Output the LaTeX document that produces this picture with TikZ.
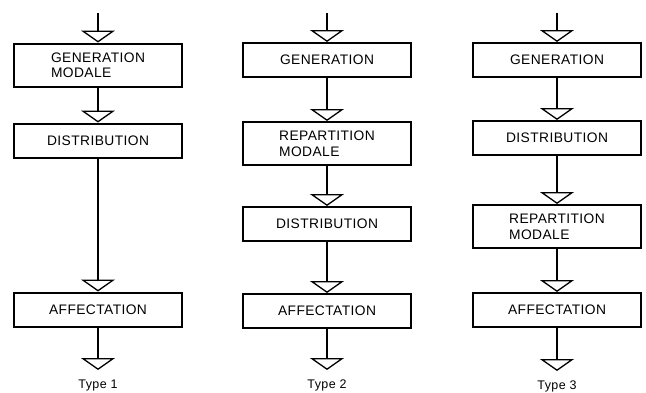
\documentclass[tikz,border=0pt]{standalone}
\usepackage{fontspec}
\setmainfont{Liberation Sans}[LetterSpace=3]
\usetikzlibrary{arrows.meta, positioning}

\begin{document}
\begin{tikzpicture}[x=1pt, y=-1pt,
            node distance=40pt,
            box/.style={rectangle, draw, line width=2pt, minimum width=168pt, minimum height=34pt,
                        inner sep=0pt, align=left, font=\fontsize{13.8}{15.5}\selectfont},
            tall/.style={minimum height=43pt},
            flow/.style={line width=1.6pt, -{Triangle[open, length=12pt, width=34pt, line width=1.3pt]}},
            caption/.style={inner sep=0pt, font=\fontsize{12.5}{14}\selectfont}
        ]
            \useasboundingbox (0,0) rectangle (646,392);

            % Type 1
            \coordinate (in1) at (98,13);
            \node[box, tall] (gen1) at (98,65) {GENERATION\\MODALE};
            \node[box, below=35pt of gen1] (dist1) {DISTRIBUTION};
            \node[box, below=133pt of dist1] (aff1) {AFFECTATION};
            \coordinate (out1) at (98,370);
            \node[caption, below=10pt of out1] (type1) {Type 1};

            \draw[flow] (in1) -- (gen1);
            \draw[flow] (gen1) -- (dist1);
            \draw[flow] (dist1) -- (aff1);
            \draw[flow] (aff1) -- (out1);

            % Type 2
            \coordinate (in2) at (327,13);
            \node[box] (gen2) at (327,60) {GENERATION};
            \node[box, tall, below=43pt of gen2] (rep2) {REPARTITION\\MODALE};
            \node[box, below=40pt of rep2] (dist2) {DISTRIBUTION};
            \node[box, below=51pt of dist2] (aff2) {AFFECTATION};
            \coordinate (out2) at (327,370);
            \node[caption, below=10pt of out2] (type2) {Type 2};

            \draw[flow] (in2) -- (gen2);
            \draw[flow] (gen2) -- (rep2);
            \draw[flow] (rep2) -- (dist2);
            \draw[flow] (dist2) -- (aff2);
            \draw[flow] (aff2) -- (out2);

            % Type 3
            \coordinate (in3) at (557,13);
            \node[box] (gen3) at (557,60) {GENERATION};
            \node[box, below=42pt of gen3] (dist3) {DISTRIBUTION};
            \node[box, tall, below=48pt of dist3] (rep3) {REPARTITION\\MODALE};
            \node[box, below=43pt of rep3] (aff3) {AFFECTATION};
            \coordinate (out3) at (557,371);
            \node[caption, below=10pt of out3] (type3) {Type 3};

            \draw[flow] (in3) -- (gen3);
            \draw[flow] (gen3) -- (dist3);
            \draw[flow] (dist3) -- (rep3);
            \draw[flow] (rep3) -- (aff3);
            \draw[flow] (aff3) -- (out3);
        \end{tikzpicture}
\end{document}
